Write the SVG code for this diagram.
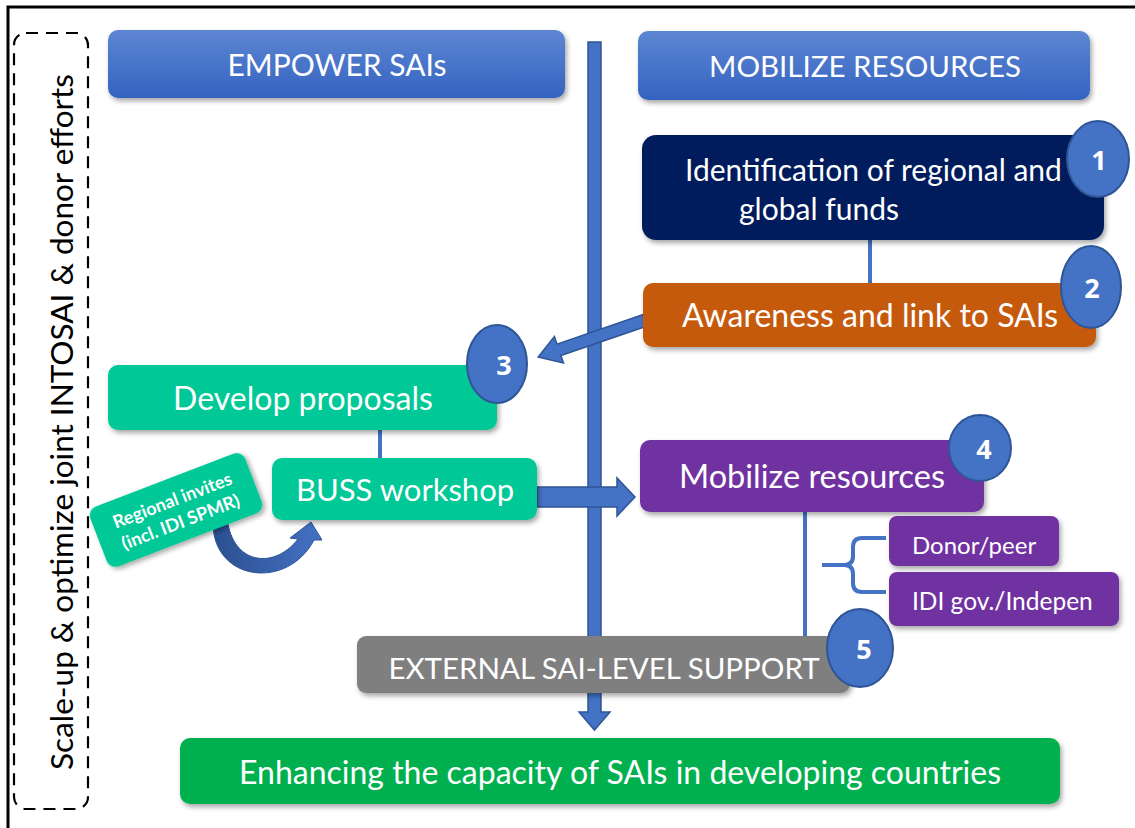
<svg xmlns="http://www.w3.org/2000/svg" width="1135" height="828" viewBox="0 0 1135 828">
<defs>
<style>
.t{font-family:Lato,"Open Sans",sans-serif;fill:#fff}
.c{text-anchor:middle}
.num{font-family:"Open Sans",sans-serif;font-weight:bold;fill:#fff;font-size:27px;text-anchor:middle}
.circ{fill:#4472c4;stroke:#2f5597;stroke-width:2}
.blk{fill:#4472c4;stroke:#2f5597;stroke-width:1.5}
.ln{stroke:#4472c4;stroke-width:4;fill:none}
</style>
<linearGradient id="hdr" x1="0" y1="0" x2="0" y2="1">
<stop offset="0" stop-color="#5d86d3"/>
<stop offset="1" stop-color="#3463c0"/>
</linearGradient>
<linearGradient id="crv" x1="0" y1="0" x2="1" y2="0">
<stop offset="0" stop-color="#2b4f8f"/>
<stop offset="1" stop-color="#4472c4"/>
</linearGradient>
<filter id="sh" x="-10%" y="-20%" width="120%" height="150%">
<feDropShadow dx="2" dy="3" stdDeviation="2.5" flood-color="#000" flood-opacity="0.35"/>
</filter>
</defs>
<rect width="1135" height="828" fill="#fff"/>
<path d="M8,828 V7 H1135" fill="none" stroke="#000" stroke-width="3"/>

<g id="side">
<rect x="14" y="33" width="74" height="776" rx="12" fill="none" stroke="#000" stroke-width="2.2" stroke-dasharray="12 8"/>
<text transform="translate(73,422) rotate(-90)" style="font-family:Lato,'Open Sans',sans-serif;font-size:31.5px;fill:#000" text-anchor="middle">Scale-up &amp; optimize joint INTOSAI &amp; donor efforts</text>
</g>

<g id="connectors">
<polygon class="blk" points="588,42 601,42 601,712 610,712 594.5,730 579,712 588,712"/>
<line class="ln" x1="870" y1="240" x2="870" y2="284"/>
<line class="ln" x1="380" y1="430" x2="380" y2="459"/>
<line class="ln" x1="805" y1="511" x2="805" y2="637"/>
<path d="M886,538 H862 Q853,538 853,547 V556 Q853,565 844,565 H822 M844,565 Q853,565 853,574 V583 Q853,592 862,592 H886" class="ln" stroke-width="3"/>
<polygon class="blk" points="537,487 617,487 617,478 635,497 617,516 617,507 537,507"/>
<polygon class="blk" transform="translate(646,320) rotate(161.1)" points="0,-6 92,-6 92,-14 114,0 92,14 92,6 0,6"/>
<path d="M213,524 C214,582 288,590 314,540 L322,540 L311,522 L290,538 L298,539 C276,568 236,566 228,524 Z" fill="url(#crv)" stroke="#2f5597" stroke-width="1"/>
</g>

<g id="empower">
<rect x="108" y="30" width="457" height="68" rx="10" fill="url(#hdr)" filter="url(#sh)"/>
<text class="t c" x="337" y="76" font-size="30">EMPOWER SAIs</text>
</g>
<g id="mobilize-header">
<rect x="638" y="31" width="452" height="69" rx="10" fill="url(#hdr)" filter="url(#sh)"/>
<text class="t c" x="865" y="77" font-size="29.5">MOBILIZE RESOURCES</text>
</g>

<g id="n1">
<rect x="642" y="135" width="462" height="105" rx="14" fill="#001f5c" filter="url(#sh)"/>
<text class="t" x="685" y="181" font-size="30">Identification of regional and</text>
<text class="t" x="739" y="220" font-size="30">global funds</text>
</g>
<g id="c1"><ellipse class="circ" cx="1098" cy="159" rx="31" ry="38"/><text class="num" x="1099" y="170">1</text></g>

<g id="n2">
<rect x="643" y="283" width="453" height="64" rx="10" fill="#c55a11" filter="url(#sh)"/>
<text class="t c" x="870" y="327" font-size="32">Awareness and link to SAIs</text>
</g>
<g id="c2"><ellipse class="circ" cx="1091" cy="287" rx="30" ry="41"/><text class="num" x="1092" y="298">2</text></g>

<g id="n3">
<rect x="108" y="365" width="389" height="65" rx="10" fill="#00c896" filter="url(#sh)"/>
<text class="t c" x="303" y="410" font-size="32">Develop proposals</text>
</g>
<g id="c3"><ellipse class="circ" cx="497" cy="364" rx="30" ry="39"/><text class="num" x="504" y="375">3</text></g>

<g id="buss">
<rect x="272" y="458" width="265" height="62" rx="10" fill="#00c896" filter="url(#sh)"/>
<text class="t c" x="405" y="501" font-size="31">BUSS workshop</text>
</g>

<g id="regional">
<g transform="translate(176,510) rotate(-21)">
<rect x="-83" y="-32" width="166" height="64" rx="9" fill="#00c896" filter="url(#sh)"/>
<text class="t c" x="0" y="-4" font-size="18" font-weight="bold">Regional invites</text>
<text class="t c" x="0" y="19" font-size="18" font-weight="bold">(incl. IDI SPMR)</text>
</g>
</g>

<g id="n4">
<rect x="640" y="440" width="344" height="72" rx="10" fill="#7030a0" filter="url(#sh)"/>
<text class="t c" x="812" y="488" font-size="32.5">Mobilize resources</text>
</g>
<g id="c4"><ellipse class="circ" cx="980" cy="448" rx="31" ry="33"/><text class="num" x="984" y="459">4</text></g>

<g id="donor">
<rect x="889" y="516" width="170" height="50" rx="8" fill="#7030a0" filter="url(#sh)"/>
<text class="t" x="912" y="554" font-size="24">Donor/peer</text>
</g>
<g id="idi">
<rect x="889" y="572" width="230" height="54" rx="8" fill="#7030a0" filter="url(#sh)"/>
<text class="t" x="912" y="610" font-size="24.5">IDI gov./Indepen</text>
</g>

<g id="external">
<rect x="357" y="636" width="493" height="57" rx="9" fill="#7f7f7f" filter="url(#sh)"/>
<text class="t c" x="604" y="679" font-size="29.5">EXTERNAL SAI-LEVEL SUPPORT</text>
</g>
<g id="c5"><ellipse class="circ" cx="860" cy="648" rx="33" ry="39"/><text class="num" x="864" y="659">5</text></g>

<g id="enhancing">
<rect x="180" y="738" width="880" height="66" rx="10" fill="#00b050" filter="url(#sh)"/>
<text class="t c" x="620" y="784" font-size="32">Enhancing the capacity of SAIs in developing countries</text>
</g>
</svg>
